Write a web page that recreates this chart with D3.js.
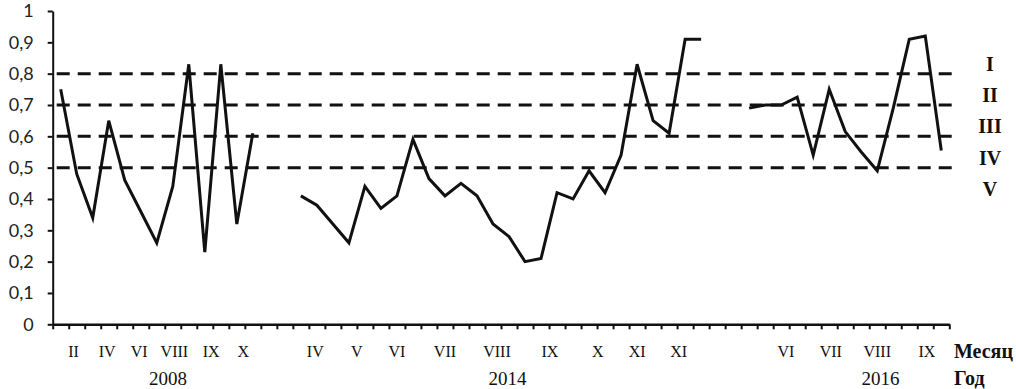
<!DOCTYPE html>
<html>
<head>
<meta charset="utf-8">
<script src="https://cdn.jsdelivr.net/npm/d3@7"></script>
<style>
  body { margin: 0; background: #fff; }
  svg { display: block; }
  .yaxis text { font-family: Lato, "Open Sans", sans-serif; font-size: 18px; fill: #222; }
  .serif { font-family: "Liberation Serif", "Times New Roman", serif; fill: #111; }
</style>
</head>
<body>
<svg width="1016" height="389"></svg>
<script>
// 月のカテゴリ数（2008, 2014, 2016 を1本の軸に並べる）
const categoryCount = 56

// 各年の系列（開始カテゴリ, 値）
const start2008 = 0
const values2008 = [0.75, 0.48, 0.34, 0.65, 0.46, 0.36, 0.26, 0.44, 0.83, 0.23, 0.83, 0.32, 0.61]
const start2014 = 15
const values2014 = [0.41, 0.38, 0.32, 0.26, 0.44, 0.37, 0.41, 0.59, 0.465, 0.41, 0.45, 0.41, 0.32,
  0.28, 0.20, 0.21, 0.42, 0.40, 0.49, 0.42, 0.54, 0.83, 0.65, 0.61, 0.91, 0.91]
const start2016 = 43
const values2016 = [0.69, 0.70, 0.70, 0.725, 0.54, 0.75, 0.615, 0.55, 0.49, 0.69, 0.91, 0.92, 0.555]

// 月ラベル（カテゴリ位置, ラベル）
const monthLabels = ['II', 'IV', 'VI', 'VIII', 'IX', 'X',
  'IV', 'V', 'VI', 'VII', 'VIII', 'IX', 'X', 'XI', 'XI',
  'VI', 'VII', 'VIII', 'IX']
const monthAt = [0.8, 2.9, 4.9, 7.1, 9.4, 11.4,
  15.9, 18.5, 21, 24, 27.25, 30.55, 33.55, 36, 38.6,
  45.3, 48.1, 51, 54.1]
const yearLabels = ['2008', '2014', '2016']
const yearAt = [6.7, 27.9, 51.2]

// 区分線と区分名
const levels = [0.8, 0.7, 0.6, 0.5]
const zoneNames = ['I', 'II', 'III', 'IV', 'V']
const zoneAt = [0.8, 0.7, 0.6, 0.5, 0.4]

const yTicks = d3.range(0, 11).map(d => d / 10)

const svg = d3.select('svg')
const plotLeft = 52.7
const plotRight = 949.3
const plotTop = 11
const plotBottom = 324.3

const x = d3.scaleLinear().domain([0, categoryCount]).range([plotLeft, plotRight])
const y = d3.scaleLinear().domain([0, 1]).range([plotBottom, plotTop])
const cx = i => x(i + 0.5)

// 区分の破線
svg.append('g').selectAll('line')
  .data(levels)
  .join('line')
  .attr('x1', plotLeft + 4)
  .attr('x2', plotRight + 3)
  .attr('y1', d => y(d))
  .attr('y2', d => y(d))
  .attr('stroke', '#111')
  .attr('stroke-width', 3)
  .attr('stroke-dasharray', '13,8')

// y軸（小数点はカンマ）
const locale = d3.formatLocale({ decimal: ',', thousands: ' ', grouping: [3], currency: ['', ''] })
const fmt = locale.format('.1~f')
const yAxis = svg.append('g')
  .attr('class', 'yaxis')
  .attr('transform', `translate(${plotLeft},0)`)
  .call(d3.axisLeft(y).tickValues(yTicks).tickFormat(fmt).tickSize(5).tickSizeOuter(0).tickPadding(14))
yAxis.select('.domain').attr('stroke', '#111').attr('stroke-width', 2)
yAxis.selectAll('.tick line').attr('stroke', '#111').attr('stroke-width', 2)

// x軸（カテゴリの境界に目盛り）
const xAxis = svg.append('g')
  .attr('transform', `translate(0,${plotBottom})`)
  .call(d3.axisBottom(x).tickValues(d3.range(0, categoryCount + 1)).tickFormat('').tickSize(5).tickSizeOuter(0))
xAxis.select('.domain').attr('stroke', '#111').attr('stroke-width', 2.5)
xAxis.selectAll('.tick line').attr('stroke', '#111').attr('stroke-width', 2)

// 折れ線
const line = d3.line()
  .x(d => cx(d.i))
  .y(d => y(d.v))

const series = [
  values2008.map((v, k) => ({ i: start2008 + k, v })),
  values2014.map((v, k) => ({ i: start2014 + k, v })),
  values2016.map((v, k) => ({ i: start2016 + k, v }))
]

svg.append('g').selectAll('path')
  .data(series)
  .join('path')
  .attr('d', line)
  .attr('fill', 'none')
  .attr('stroke', '#111')
  .attr('stroke-width', 3)
  .attr('stroke-linejoin', 'miter')

// 月ラベル
svg.append('g').selectAll('text')
  .data(monthLabels)
  .join('text')
  .attr('class', 'serif')
  .attr('x', (d, k) => cx(monthAt[k]))
  .attr('y', 357)
  .attr('text-anchor', 'middle')
  .style('font-size', '16px')
  .text(d => d)

// 年ラベル
svg.append('g').selectAll('text')
  .data(yearLabels)
  .join('text')
  .attr('class', 'serif')
  .attr('x', (d, k) => cx(yearAt[k]))
  .attr('y', 385)
  .attr('text-anchor', 'middle')
  .style('font-size', '19px')
  .text(d => d)

// 軸名
svg.append('text')
  .attr('class', 'serif')
  .attr('x', 954)
  .attr('y', 358)
  .style('font-size', '20px')
  .style('font-weight', 'bold')
  .text('Месяц')
svg.append('text')
  .attr('class', 'serif')
  .attr('x', 954)
  .attr('y', 385)
  .style('font-size', '20px')
  .style('font-weight', 'bold')
  .text('Год')

// 区分名
svg.append('g').selectAll('text')
  .data(zoneNames)
  .join('text')
  .attr('class', 'serif')
  .attr('x', 990)
  .attr('y', (d, k) => y(zoneAt[k]) - 10)
  .attr('dy', '0.35em')
  .attr('text-anchor', 'middle')
  .style('font-size', '20px')
  .style('font-weight', 'bold')
  .text(d => d)
</script>
</body>
</html>
